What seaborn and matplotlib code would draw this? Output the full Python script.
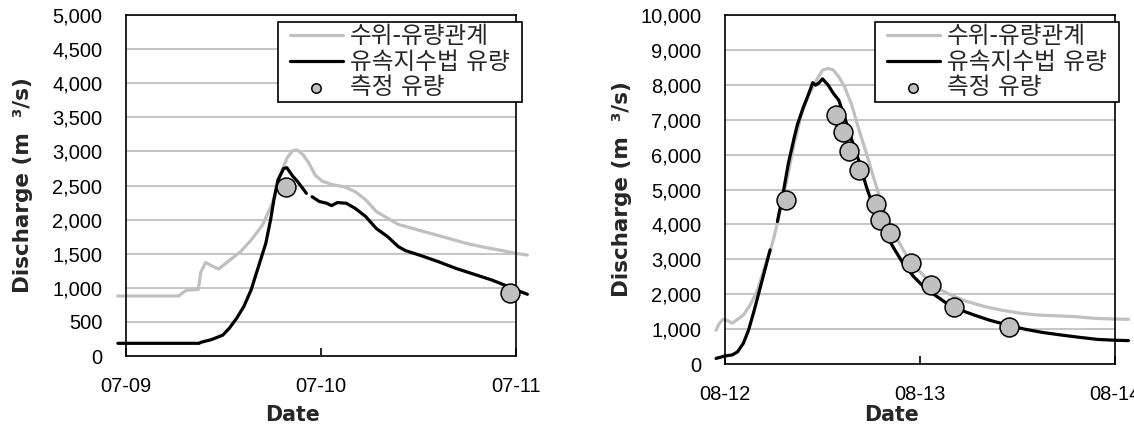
import numpy as np
import pandas as pd
import matplotlib
matplotlib.use("Agg")
import matplotlib.pyplot as plt
import matplotlib.dates as mdates
from matplotlib.path import Path
from matplotlib.ticker import FuncFormatter, MultipleLocator
import seaborn as sns

# ---------------- July flood event (hours after 07-09 00:00) ----------------
jul_start = "2006-07-09"
jul_rating_hours = [-1, 6.5, 7, 7.5, 8.9, 9.2, 9.8, 10.6, 11.4, 12.7, 14.1, 15.4, 16.8,
                    18, 19, 19.8, 20.5, 21.1, 21.8, 22.5, 23.3, 24.2, 25.5, 26.9, 28.2,
                    29.5, 30.8, 32.2, 33.5, 35.3, 37.4, 39.7, 41.9, 44.1, 46.3, 48, 49.4]
jul_rating_q = [880, 880, 930, 965, 975, 1230, 1370, 1320, 1275, 1400, 1530, 1700, 1920,
                2240, 2650, 2900, 3010, 3020, 2950, 2830, 2650, 2560, 2510, 2480, 2410,
                2290, 2120, 2020, 1930, 1870, 1800, 1725, 1650, 1595, 1545, 1505, 1480]
jul_index_hours = [-1, 9, 9.2, 10.5, 11.9, 12.7, 13.6, 14.5, 15.4, 16.3, 17.2, 17.8, 18.2,
                   18.7, 19.4, 19.8, 20.5, 21.1, 21.8, 22.2, 22.6, 22.9, 23.8, 24.7, 25.3,
                   26, 27.1, 28.2, 29.5, 30.8, 32.2, 33.5, 34.4, 36.1, 38.4, 40.6, 42.8,
                   45, 46.8, 48, 49.4]
jul_index_q = [186, 186, 200, 240, 305, 405, 550, 725, 970, 1310, 1650, 2000, 2290,
               2580, 2750, 2760, 2640, 2560, 2450, 2385, np.nan, 2335, 2265, 2240, 2205,
               2250, 2240, 2165, 2045, 1870, 1750, 1605, 1545, 1480, 1385, 1285, 1200,
               1115, 1030, 970, 905]
jul_meas_hours = [19.7, 47.2]
jul_meas_q = [2480, 920]

# ---------------- August flood event (hours after 08-12 00:00) ----------------
aug_start = "2006-08-12"
aug_rating_hours = [-1.1, -0.7, -0.25, 0.45, 0.9, 1.55, 2.25, 3.1, 4, 4.9, 5.6, 6, 6.7,
                    7.55, 8.5, 9.35, 10.25, 11.15, 12, 12.7, 13.35, 14, 14.7, 15.6, 16.5,
                    17.4, 18.25, 19.15, 20, 20.9, 22.3, 23.6, 24.95, 26.3, 28.05, 29.8,
                    32.05, 34.3, 36.5, 38.75, 40.95, 43.2, 45.4, 47.65, 49.65]
aug_rating_q = [970, 1165, 1280, 1230, 1170, 1280, 1400, 1690, 2120, 2790, 3270, 3600, 4300,
                5200, 6300, 7100, 7700, 8090, 8420, 8470, 8420, 8230, 7950, 7420, 6700,
                6040, 5370, 4700, 4170, 3700, 3120, 2740, 2410, 2150, 1950, 1790,
                1640, 1530, 1450, 1400, 1380, 1355, 1310, 1290, 1280]
aug_index_hours = [-1.1, 0, 0.9, 1.55, 2.25, 2.9, 3.55, 4.2, 4.9, 5.55, 6.0, 6.45, 7.15,
                   7.8, 8.5, 8.9, 9.6, 10.25, 10.8, 11.15, 11.55, 12, 12.7, 13.35, 14,
                   14.7, 15.6, 16.5, 17.4, 18.25, 19.15, 20, 20.9, 21.8, 23.15, 24.5,
                   25.8, 27.15, 28.95, 30.7, 32.5, 34.7, 36.95, 39.2, 41.4, 43.6, 45.85,
                   48, 49.65]
aug_index_q = [160, 230, 260, 350, 590, 970, 1500, 2070, 2690, 3270, np.nan, 4080, 4890,
               5750, 6470, 6850, 7330, 7710, 8060, 7990, 8050, 8170, 7990, 7750, 7560,
               7090, 6420, 5800, 5080, 4510, 4030, 3630, 3270, 2930, 2520, 2200,
               1980, 1760, 1550, 1400, 1260, 1120, 995, 900, 830, 765, 705,
               680, 670]
aug_meas_hours = [7.5, 13.7, 14.55, 15.25, 16.45, 18.6, 19.05, 20.25, 22.9, 25.4, 28.15, 34.9]
aug_meas_q = [4700, 7130, 6660, 6110, 5560, 4580, 4130, 3740, 2880, 2260, 1640, 1070]

series_labels = ["수위-유량관계", "유속지수법 유량", "측정 유량"]
x_title = "Date"
y_title = "Discharge (m  ³/s)"

RATING_COLOR = "#c0c0c0"
INDEX_COLOR = "#000000"
POINT_COLOR = "#c0c0c0"

sns.set_style("white")
plt.rcParams["font.family"] = ["DejaVu Sans", "Noto Sans CJK KR"]


def make_frame(start, hours, q):
    t = pd.Timestamp(start) + pd.to_timedelta(np.asarray(hours, float), unit="h")
    return pd.DataFrame({"time": t, "q": np.asarray(q, float)})


def draw_series(ax, df, color, label):
    """Draw a series as a line, breaking it wherever a value is missing."""
    group = df["q"].isna().cumsum()
    valid = df["q"].notna()
    first = True
    for _, part in df[valid].groupby(group[valid]):
        kws = dict(color=color, lw=2.3, clip_on=False, sort=False, legend=False)
        if first:
            kws["label"] = label
            first = False
        sns.lineplot(data=part, x="time", y="q", ax=ax, **kws)


def legend_frame(x0, y0, width, height, mutation_size, extra=9.5):
    """Square legend frame with a little extra room left and right."""
    return Path([(x0 - extra, y0), (x0 + width + extra, y0),
                 (x0 + width + extra, y0 + height), (x0 - extra, y0 + height),
                 (x0 - extra, y0)], closed=True)


def style_axes(ax, start, ymax, ystep):
    t0 = pd.Timestamp(start)
    ax.set_xlim(t0, t0 + pd.Timedelta(days=2))
    ax.set_ylim(0, ymax)
    ax.xaxis.set_major_locator(mdates.DayLocator())
    ax.xaxis.set_major_formatter(mdates.DateFormatter("%m-%d"))
    ax.yaxis.set_major_locator(MultipleLocator(ystep))
    ax.yaxis.set_major_formatter(FuncFormatter(lambda v, p: f"{int(v):,}"))
    ax.grid(axis="y", color="#c0c0c0", lw=1.3)
    ax.grid(axis="x", visible=False)
    for s in ax.spines.values():
        s.set_visible(True)
        s.set_color("black")
        s.set_linewidth(1.2)
    ax.tick_params(axis="x", direction="in", length=6, width=1.2, pad=15,
                   labelsize=14.5, labelfontfamily="Liberation Sans",
                   colors="black", bottom=True)
    ax.tick_params(axis="y", length=0, pad=17, labelsize=14.5,
                   labelfontfamily="Liberation Sans", colors="black", left=True)
    ax.set_xlabel(x_title, fontsize=14.8, fontweight="bold")
    ax.set_ylabel(y_title, fontsize=15.5, fontweight="bold")


fig = plt.figure(figsize=(11.34, 4.26), dpi=100)
W, H = 1134, 426
ax1 = fig.add_axes([126 / W, 1 - 356 / H, 390 / W, 341 / H])
ax2 = fig.add_axes([725 / W, 1 - 364 / H, 390 / W, 349 / H])

events = [
    (ax1, jul_start, jul_rating_hours, jul_rating_q, jul_index_hours, jul_index_q,
     jul_meas_hours, jul_meas_q, 5000, 500, 512, -0.144),
    (ax2, aug_start, aug_rating_hours, aug_rating_q, aug_index_hours, aug_index_q,
     aug_meas_hours, aug_meas_q, 10000, 1000, 1109, -0.117),
]

for (ax, start, rh, rq, ih, iq, mh, mq, ymax, ystep, leg_right, xlab_y) in events:
    draw_series(ax, make_frame(start, rh, rq), RATING_COLOR, series_labels[0])
    draw_series(ax, make_frame(start, ih, iq), INDEX_COLOR, series_labels[1])
    meas = make_frame(start, mh, mq)
    sns.scatterplot(data=meas, x="time", y="q", ax=ax, s=185, color=POINT_COLOR,
                    edgecolor="black", linewidth=1.1, zorder=5, clip_on=False,
                    label=series_labels[2], legend=False)
    style_axes(ax, start, ymax, ystep)
    ax.yaxis.set_label_coords(-0.238, 0.5)
    ax.xaxis.set_label_coords(0.428, xlab_y)

    handles, labels = ax.get_legend_handles_labels()
    leg = ax.legend(handles, labels, loc="upper right",
                    bbox_to_anchor=(leg_right / W, 1 - 22 / H),
                    bbox_transform=fig.transFigure, borderaxespad=0,
                    frameon=True, fancybox=False, framealpha=1, edgecolor="black",
                    fontsize=17, borderpad=0.1, labelspacing=0.06,
                    handlelength=2.25, handletextpad=0.3, markerscale=0.5)
    frame = leg.get_frame()
    frame.set_linewidth(1.2)
    frame.set_boxstyle(legend_frame)

fig.savefig("out.png", dpi=100)
